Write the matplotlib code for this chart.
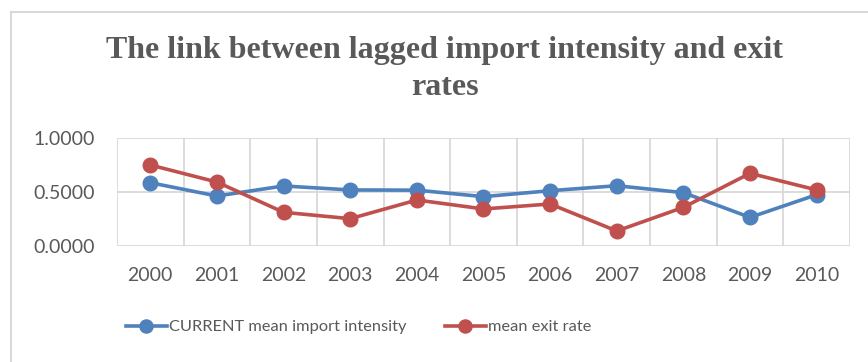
import matplotlib
matplotlib.use("Agg")
import matplotlib.pyplot as plt
from matplotlib.lines import Line2D

# Yearly series
years = ["2000", "2001", "2002", "2003", "2004", "2005",
         "2006", "2007", "2008", "2009", "2010"]
import_intensity = [0.586, 0.463, 0.556, 0.519, 0.517, 0.457,
                    0.512, 0.558, 0.494, 0.265, 0.475]
exit_rate = [0.750, 0.592, 0.312, 0.253, 0.426, 0.343,
             0.389, 0.139, 0.358, 0.673, 0.519]
y_ticks = [0.0, 0.5, 1.0]

BLUE = "#4F81BD"
RED = "#C0504D"
TEXT = "#595959"
GRID = "#D9D9D9"

plt.rcParams["font.family"] = "Lato"

W, H = 868, 362
fig = plt.figure(figsize=(W / 100, H / 100), dpi=100)

# chart border (top and left edge only are visible)
fig.add_artist(Line2D([11 / W, 1.0], [1 - 12 / H, 1 - 12 / H], color=GRID, lw=1.5))
fig.add_artist(Line2D([11 / W, 11 / W], [0.0, 1 - 12 / H], color=GRID, lw=1.5))

ax = fig.add_axes([117 / W, 1 - 246 / H, (850 - 117) / W, (246 - 138) / H])
x = list(range(len(years)))

ax.plot(x, import_intensity, color=BLUE, lw=2.6, marker="o", ms=10.5,
        label="CURRENT mean import intensity", zorder=3)
ax.plot(x, exit_rate, color=RED, lw=2.6, marker="o", ms=10.5,
        label="mean exit rate", zorder=4)

ax.set_xlim(-0.5, len(years) - 0.5)
ax.set_ylim(0, 1)
ax.set_yticks(y_ticks)
ax.set_yticklabels([f"{v:.4f}" for v in y_ticks])
ax.set_xticks(x)
ax.set_xticklabels(years)

# gridlines between categories
for b in [i - 0.5 for i in range(len(years) + 1)]:
    ax.axvline(b, color=GRID, lw=1.3, zorder=1)
for v in y_ticks:
    ax.axhline(v, color=GRID, lw=1.3, zorder=1)

for s in ax.spines.values():
    s.set_visible(False)
ax.tick_params(length=0, labelsize=14, labelcolor=TEXT)
ax.tick_params(axis="y", pad=16)
ax.tick_params(axis="x", pad=15)

fig.text(445 / W, 1 - 36 / H,
         "The link between lagged import intensity and exit\nrates",
         ha="center", va="top", fontsize=23, fontweight="bold",
         family="Liberation Serif", color=TEXT, linespacing=1.36)

leg = fig.legend(loc="center left", bbox_to_anchor=(126 / W, 1 - 327 / H),
                 ncol=2, frameon=False, handlelength=2.5, handletextpad=0.15,
                 columnspacing=2.3, borderpad=0, borderaxespad=0,
                 prop={"size": 11.8}, labelcolor=TEXT, markerscale=0.9)

fig.savefig("out.png", dpi=100)
